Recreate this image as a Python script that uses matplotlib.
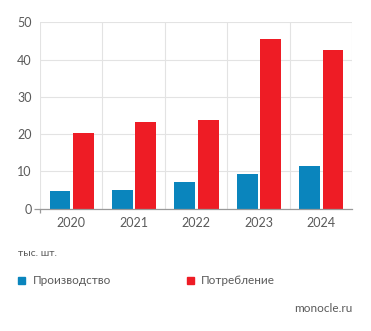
import numpy as np
import matplotlib.pyplot as plt
from matplotlib.patches import Rectangle

years = ["2020", "2021", "2022", "2023", "2024"]
production = [4.7, 5.0, 7.2, 9.4, 11.4]
consumption = [20.2, 23.3, 23.9, 45.4, 42.7]
unit_label = "тыс. шт."
series_names = ["Производство", "Потребление"]
source = "monocle.ru"

BLUE = "#0a85bd"
RED = "#ee1c25"
TEXT = "#5a5a5a"
GRID = "#e3e3e3"
AXIS = "#999999"

plt.rcParams['font.family'] = ['Lato', 'DejaVu Sans']

fig = plt.figure(figsize=(3.71, 3.31), dpi=100)
ax = fig.add_axes([0.108, 0.3695, 0.841, 0.563])

x = np.arange(len(years))
w = 0.335
ax.bar(x - 0.18, production, w, color=BLUE, zorder=3)
ax.bar(x + 0.195, consumption, w, color=RED, zorder=3)

ax.set_xlim(-0.5, len(years) - 0.5)
ax.set_ylim(0, 50)
ax.set_yticks(range(0, 51, 10))
ax.set_xticks(x)
ax.set_xticklabels(years)
ax.set_xticks(np.arange(-0.5, len(years), 1), minor=True)

ax.grid(True, axis="y", color=GRID, lw=0.8, zorder=0)
ax.grid(True, axis="x", which="minor", color=GRID, lw=0.8, zorder=0)
for s in ["top", "right", "left"]:
    ax.spines[s].set_visible(False)
ax.spines["bottom"].set_color(AXIS)
ax.spines["bottom"].set_linewidth(0.9)
ax.spines["bottom"].set_zorder(4)

ax.tick_params(axis="x", which="major", length=0, pad=6, labelsize=9, labelcolor=TEXT)
ax.tick_params(axis="x", which="minor", length=3, color=AXIS, width=0.9)
ax.tick_params(axis="y", length=4, color=AXIS, width=0.9, pad=2, labelsize=9, labelcolor=TEXT)

# only the first tick mark is drawn on each axis
for i, t in enumerate(ax.yaxis.get_major_ticks()):
    t.tick1line.set_visible(i == 0)
for i, t in enumerate(ax.xaxis.get_minor_ticks()):
    t.tick1line.set_visible(i == 0)

fig.text(18 / 371, 1 - 253 / 331, unit_label, fontsize=7.5, color=TEXT, va="center")

leg_y = 1 - 280 / 331
for xs, xt, col, name in [(18, 32.5, BLUE, series_names[0]),
                          (187, 201, RED, series_names[1])]:
    fig.patches.append(Rectangle((xs / 371, leg_y - 3.5 / 331), 7 / 371, 7 / 331,
                                 transform=fig.transFigure, color=col))
    fig.text(xt / 371, leg_y, name, fontsize=8.5, color=TEXT, va="center")

fig.text(352 / 371, 1 - 309 / 331, source, fontsize=8.5, color=TEXT, va="center", ha="right")

fig.savefig("out.png", dpi=100)
